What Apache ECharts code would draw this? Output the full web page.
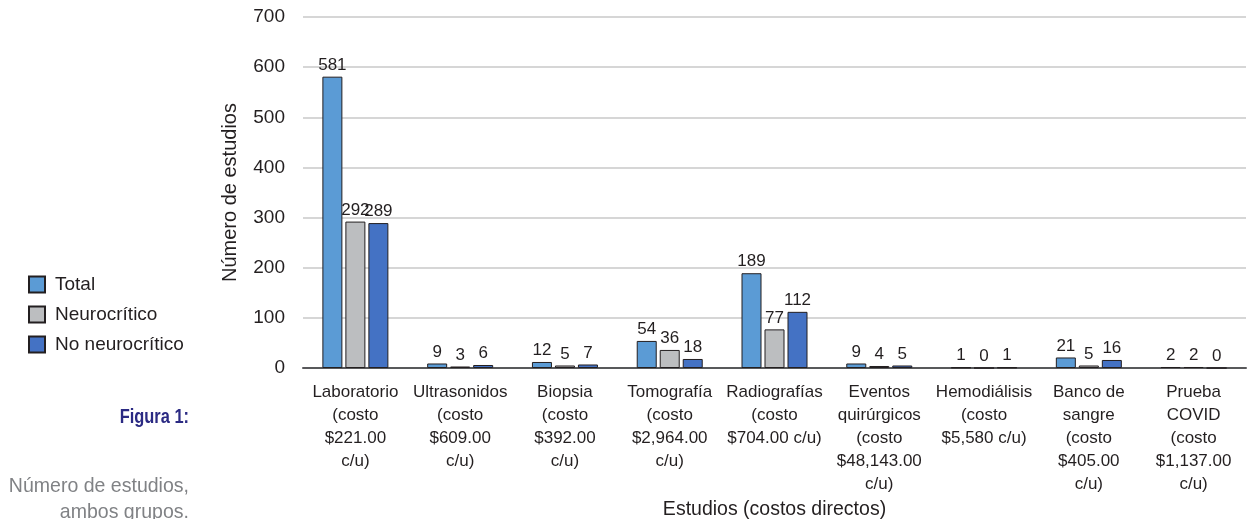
<!DOCTYPE html>
<html>
<head>
<meta charset="utf-8">
<script src="https://cdn.jsdelivr.net/npm/echarts@6/dist/echarts.min.js"></script>
<style>
  html, body { margin: 0; padding: 0; background: #fff; }
  #chart { width: 1254px; height: 519px; }
</style>
</head>
<body>
<div id="chart"></div>
<script>
const categories = [
  "Laboratorio\n(costo\n$221.00\nc/u)",
  "Ultrasonidos\n(costo\n$609.00\nc/u)",
  "Biopsia\n(costo\n$392.00\nc/u)",
  "Tomografía\n(costo\n$2,964.00\nc/u)",
  "Radiografías\n(costo\n$704.00 c/u)",
  "Eventos\nquirúrgicos\n(costo\n$48,143.00\nc/u)",
  "Hemodiálisis\n(costo\n$5,580 c/u)",
  "Banco de\nsangre\n(costo\n$405.00\nc/u)",
  "Prueba\nCOVID\n(costo\n$1,137.00\nc/u)"
];
const total = [581, 9, 12, 54, 189, 9, 1, 21, 2];
const neurocritico = [292, 3, 5, 36, 77, 4, 0, 5, 2];
const noNeurocritico = [289, 6, 7, 18, 112, 5, 1, 16, 0];
const yTicks = { min: 0, max: 700, interval: 100 };

const font = "'Liberation Sans', Arial, sans-serif";
const textColor = "#231f20";

function barSeries(name, data, color) {
  return {
    name: name,
    type: "bar",
    data: data,
    barWidth: 20,
    barGap: "15%",
    itemStyle: { color: color, borderColor: "#231f20", borderWidth: 1 },
    label: {
      show: true,
      position: "top",
      distance: 3,
      color: textColor,
      fontFamily: font,
      fontSize: 17
    }
  };
}

const chart = echarts.init(document.getElementById("chart"), null, { renderer: "canvas" });
chart.setOption({
  animation: false,
  textStyle: { fontFamily: font },
  grid: { left: 303, right: 8, top: 17, bottom: 151, outerBoundsMode: "none", containLabel: false },
  legend: {
    orient: "vertical",
    left: 23,
    top: 270,
    itemWidth: 16,
    itemHeight: 16,
    itemGap: 11,
    icon: "rect",
    textStyle: { color: textColor, fontSize: 19, fontFamily: font, padding: [0, 0, 0, 5] },
    data: ["Total", "Neurocrítico", "No neurocrítico"]
  },
  xAxis: {
    type: "category",
    data: categories,
    name: "Estudios (costos directos)",
    nameLocation: "middle",
    nameGap: 132,
    nameMoveOverlap: false,
    nameTextStyle: { color: textColor, fontSize: 19.5, fontFamily: font },
    axisLine: { lineStyle: { color: "#58595b", width: 2 } },
    axisTick: { show: false },
    axisLabel: {
      interval: 0,
      margin: 13,
      color: textColor,
      fontSize: 17,
      lineHeight: 23,
      fontFamily: font
    }
  },
  yAxis: {
    type: "value",
    min: yTicks.min,
    max: yTicks.max,
    interval: yTicks.interval,
    name: "Número de estudios",
    nameLocation: "middle",
    nameGap: 63,
    nameMoveOverlap: false,
    nameTextStyle: { color: textColor, fontSize: 20, fontFamily: font },
    axisLine: { show: false },
    axisTick: { show: false },
    axisLabel: { color: textColor, fontSize: 19, margin: 18, fontFamily: font },
    splitLine: { lineStyle: { color: "#c8c8c8", width: 1.5 } }
  },
  graphic: [
    {
      type: "text",
      x: 189,
      y: 417,
      scaleX: 0.82,
      style: {
        text: "Figura 1:",
        fill: "#2b2a83",
        fontSize: 20,
        fontWeight: "bold",
        fontFamily: font,
        align: "right",
        verticalAlign: "middle"
      }
    },
    {
      type: "text",
      x: 189,
      y: 499,
      scaleX: 0.93,
      style: {
        text: "Número de estudios,\nambos grupos.",
        fill: "#808285",
        fontSize: 21,
        lineHeight: 26,
        fontFamily: font,
        align: "right",
        verticalAlign: "middle"
      }
    }
  ],
  series: [
    barSeries("Total", total, "#5b9bd5"),
    barSeries("Neurocrítico", neurocritico, "#bcbec0"),
    barSeries("No neurocrítico", noNeurocritico, "#4472c4")
  ]
});
</script>
</body>
</html>
